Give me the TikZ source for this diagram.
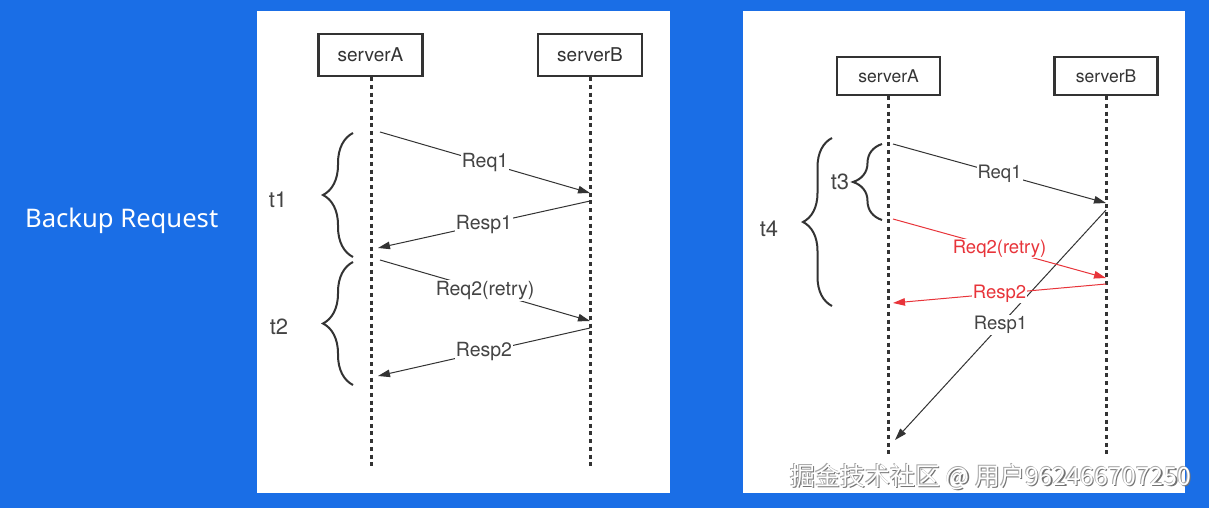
\documentclass[tikz,border=0pt]{standalone}
\usepackage{fontspec}
\setmainfont{TeX Gyre Heros}
\newfontfamily\cjkfont{Noto Sans CJK SC}
\newfontfamily\uifont{Noto Sans}
\usetikzlibrary{arrows.meta,decorations.pathreplacing}
\definecolor{bgblue}{RGB}{26,110,230}
\definecolor{ink}{RGB}{51,51,51}
\definecolor{txt}{RGB}{68,68,68}
\definecolor{redln}{RGB}{232,52,58}
\begin{document}
\begin{tikzpicture}[x=1pt,y=-1pt,
 server/.style={draw=ink,line width=2.5pt,fill=white,minimum width=104pt,minimum height=42pt,inner sep=0pt,font=\fontsize{19}{21}\selectfont,text=ink},
 serverR/.style={server,minimum width=103pt,minimum height=38pt,font=\fontsize{17.5}{19}\selectfont},
 life/.style={draw=ink,line width=3pt,dash pattern=on 4pt off 3.7pt},
 msg/.style={draw=ink,line width=1pt,-{Triangle[length=12pt,width=7.5pt]}},
 msgred/.style={msg,draw=redln,-{Triangle[length=12pt,width=7.5pt,fill=redln]}},
 lbl/.style={fill=white,inner sep=1pt,font=\fontsize{19.5}{21}\selectfont,text=txt},
 lblR/.style={lbl,font=\fontsize{18.5}{20}\selectfont},
 lblred/.style={lblR,text=redln},
 brc/.style={draw=ink,line width=2pt,decorate,decoration={brace,amplitude=#1}},
 tlbl/.style={font=\fontsize{22}{24}\selectfont,text=txt},
 wmark/.style={font=\cjkfont\fontsize{25}{27}\selectfont,anchor=base west,inner sep=0pt}
]
\fill[bgblue] (0,0) rectangle (1209,508);
\useasboundingbox (0,0) rectangle (1209,508);
\fill[white] (257,11) rectangle (670,493);
\fill[white] (743,11) rectangle (1185,493);

% title
\node[font=\uifont\fontsize{25.6}{30}\selectfont,text=white,anchor=base west,inner sep=0pt] (title) at (25,227) {Backup Request};

% ---------- left panel ----------
\node[server] (A1) at (370.5,55) {serverA};
\node[server] (B1) at (590,55) {serverB};
\coordinate (A1e) at (371,467);
\coordinate (B1e) at (590,467);
\draw[life] (A1.south -| A1e) -- (A1e);
\draw[life] (B1.south -| B1e) -- (B1e);

\coordinate (q1s) at (380,132); \coordinate (q1e) at (590,193);
\coordinate (p1s) at (590,201); \coordinate (p1e) at (378,248);
\coordinate (q2s) at (380,260); \coordinate (q2e) at (590,321);
\coordinate (p2s) at (590,328); \coordinate (p2e) at (378,376);
\draw[msg] (q1s) -- node[lbl] {Req1} (q1e);
\draw[msg] (p1s) -- node[lbl] {Resp1} (p1e);
\draw[msg] (q2s) -- node[lbl] {Req2(retry)} (q2e);
\draw[msg] (p2s) -- node[lbl] {Resp2} (p2e);

\coordinate (b1a) at (353,257); \coordinate (b1b) at (353,133);
\coordinate (b2a) at (353,385); \coordinate (b2b) at (353,262);
\draw[brc=30pt] (b1a) -- (b1b);
\draw[brc=30pt] (b2a) -- (b2b);
\node[tlbl] (t1) at (278,200) {t1};
\node[tlbl] (t2) at (279,327) {t2};

% ---------- right panel ----------
\node[serverR] (A2) at (888.5,76) {serverA};
\node[serverR] (B2) at (1106,76) {serverB};
\coordinate (A2e) at (888,457);
\coordinate (B2e) at (1106,457);
\draw[life] (A2.south -| A2e) -- (A2e);
\draw[life] (B2.south -| B2e) -- (B2e);

\coordinate (r1s) at (893,144); \coordinate (r1e) at (1106,203);
\coordinate (s1s) at (1106,210); \coordinate (s1e) at (895,440);
\coordinate (r2s) at (893,219); \coordinate (r2e) at (1106,278);
\coordinate (s2s) at (1106,284); \coordinate (s2e) at (893,303);
\draw[msg] (r1s) -- node[lblR] {Req1} (r1e);
\draw[msg] (s1s) -- node[lblR] {Resp1} (s1e);
\draw[msgred] (r2s) -- node[lblred] {Req2(retry)} (r2e);
\draw[msgred] (s2s) -- node[lblred] {Resp2} (s2e);

\coordinate (b3a) at (882,220); \coordinate (b3b) at (882,144);
\coordinate (b4a) at (832,306); \coordinate (b4b) at (832,138);
\draw[brc=29pt] (b3a) -- (b3b);
\draw[brc=29pt] (b4a) -- (b4b);
\node[tlbl] (t3) at (840,182) {t3};
\node[tlbl] (t4) at (769,229) {t4};

% ---------- watermark ----------
\node[wmark,text=black!55] (wms) at (791.3,486.3) {掘金技术社区 @ 用户962466707250};
\node[wmark,text=black!35] (wmt) at (789.3,484.3) {掘金技术社区 @ 用户962466707250};
\node[wmark,text=white] (wm) at (790,485) {掘金技术社区 @ 用户962466707250};
\end{tikzpicture}
\end{document}
